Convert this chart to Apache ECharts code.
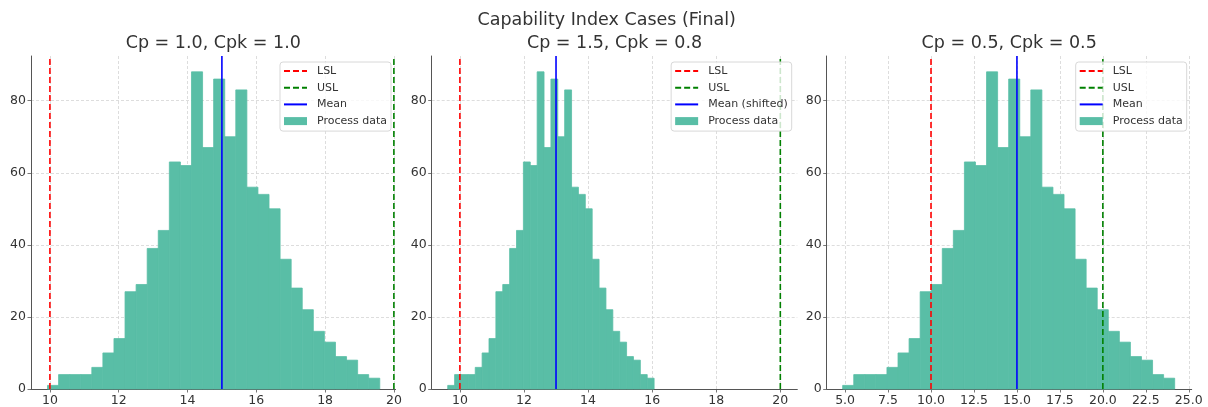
<!DOCTYPE html>
<html><head><meta charset="utf-8">
<script src="https://cdn.jsdelivr.net/npm/echarts@6.0.0/dist/echarts.min.js"></script>
<style>html,body{margin:0;padding:0;background:#fff}#c{width:1208px;height:407px}</style>
</head><body><div id="c"></div>
<script>
// ---- data ----
const mainTitle = 'Capability Index Cases (Final)';
const panelTitles = ['Cp = 1.0, Cpk = 1.0', 'Cp = 1.5, Cpk = 0.8', 'Cp = 0.5, Cpk = 0.5'];
const counts = [1,4,4,4,6,10,14,27,29,39,44,63,62,88,67,86,70,83,56,54,50,36,28,22,16,13,9,8,4,3];
const binStarts = [9.93, 9.62, 4.86];
const binWidths = [0.322, 0.2147, 0.644];
const lslValues = [10, 10, 10];
const uslValues = [20, 20, 20];
const meanValues = [15, 13, 15];
const meanLabels = ['Mean', 'Mean (shifted)', 'Mean'];
const xTickValues = [[10,12,14,16,18,20],[10,12,14,16,18,20],[5,7.5,10,12.5,15,17.5,20,22.5,25]];
const xTickDecimals = [0, 0, 1];
const yTickValues = [0,20,40,60,80];
const xRanges = [[9.45, 20.05], [9.12, 20.53], [3.93, 25.17]];
const yRange = [0, 92.4];

// ---- layout / style ----
const FONT = 'DejaVu Sans';
const gridLefts = [31, 431.7, 826.7];
const gridWidths = [364.6, 365.6, 365];
const gridTop = 56, gridHeight = 333;
const legendRights = [817, 416.3, 21.3];
const barColor = '#59bea6';
const axisColor = '#555';
const gridLineStyle = {color: '#d4d4d4', type: [3, 2], width: 0.8};

const titles = [{
  text: mainTitle, left: 606.7, top: 10, textAlign: 'center', padding: 0,
  textStyle: {fontFamily: FONT, fontSize: 17.5, fontWeight: 'normal', color: '#333', lineHeight: 20}
}];
const grids = [], xAxes = [], yAxes = [], series = [], legends = [];
const noSymbol = {opacity: 0};

for (let i = 0; i < 3; i++) {
  titles.push({
    text: panelTitles[i], left: gridLefts[i] + gridWidths[i] / 2, top: 33.5, textAlign: 'center', padding: 0,
    textStyle: {fontFamily: FONT, fontSize: 17.5, fontWeight: 'normal', color: '#333', lineHeight: 20}
  });
  grids.push({left: gridLefts[i], top: gridTop, width: gridWidths[i], height: gridHeight, containLabel: false});
  const dec = xTickDecimals[i];
  xAxes.push({
    type: 'value', gridIndex: i, min: xRanges[i][0], max: xRanges[i][1],
    axisLine: {show: true, onZero: false, lineStyle: {color: axisColor, width: 1}},
    axisTick: {show: true, length: 3.5, lineStyle: {color: axisColor, width: 0.8}, customValues: xTickValues[i]},
    axisLabel: {customValues: xTickValues[i], formatter: v => Number(v).toFixed(dec), color: '#333',
      fontFamily: FONT, fontSize: 12.5, margin: 5},
    splitLine: {show: true, lineStyle: gridLineStyle}
  });
  yAxes.push({
    type: 'value', gridIndex: i, min: yRange[0], max: yRange[1],
    axisLine: {show: true, lineStyle: {color: axisColor, width: 1}},
    axisTick: {show: true, length: 3.5, lineStyle: {color: axisColor, width: 0.8}, customValues: yTickValues},
    axisLabel: {customValues: yTickValues, color: '#333', fontFamily: FONT, fontSize: 12.5, margin: 5},
    splitLine: {show: true, lineStyle: gridLineStyle}
  });
  const histData = counts.map((c, k) => [binStarts[i] + k * binWidths[i], binStarts[i] + (k + 1) * binWidths[i], c]);
  series.push({
    type: 'custom', name: 'Process data', xAxisIndex: i, yAxisIndex: i, z: 2,
    itemStyle: {color: barColor},
    encode: {x: [0, 1], y: 2},
    data: histData,
    renderItem: (params, api) => {
      const p0 = api.coord([api.value(0), api.value(2)]);
      const p1 = api.coord([api.value(1), 0]);
      return {type: 'rect', shape: {x: p0[0], y: p0[1], width: p1[0] - p0[0], height: p1[1] - p0[1]},
        style: {fill: barColor, stroke: barColor, lineWidth: 0.8}};
    }
  });
  const vline = (name, val, color, dash) => ({
    type: 'line', name, xAxisIndex: i, yAxisIndex: i, z: 3, symbol: 'none', silent: true,
    itemStyle: {color}, lineStyle: {color, width: 1.6, type: dash},
    data: [[val, yRange[0]], [val, yRange[1]]]
  });
  series.push(vline('LSL', lslValues[i], '#ff0000', [6, 3]));
  series.push(vline('USL', uslValues[i], '#008000', [6, 3]));
  series.push(vline(meanLabels[i], meanValues[i], '#0000ff', 'solid'));
  legends.push({
    orient: 'vertical', right: legendRights[i], top: 62,
    data: [{name: 'LSL', itemStyle: noSymbol}, {name: 'USL', itemStyle: noSymbol},
           {name: meanLabels[i], itemStyle: noSymbol}, {name: 'Process data', icon: 'rect'}],
    itemWidth: 23, itemHeight: 8, itemGap: 4.7,
    padding: [3, 4, 4, 3],
    backgroundColor: 'rgba(255,255,255,0.8)', borderColor: '#d8d8d8', borderWidth: 1, borderRadius: 3,
    selectedMode: false,
    textStyle: {fontFamily: FONT, fontSize: 11, color: '#333', lineHeight: 12, padding: [0, 0, 0, 5]}
  });
}

const chart = echarts.init(document.getElementById('c'), null, {renderer: 'canvas'});
chart.setOption({
  animation: false,
  backgroundColor: '#fff',
  title: titles, grid: grids, xAxis: xAxes, yAxis: yAxes, legend: legends, series
});
</script></body></html>
